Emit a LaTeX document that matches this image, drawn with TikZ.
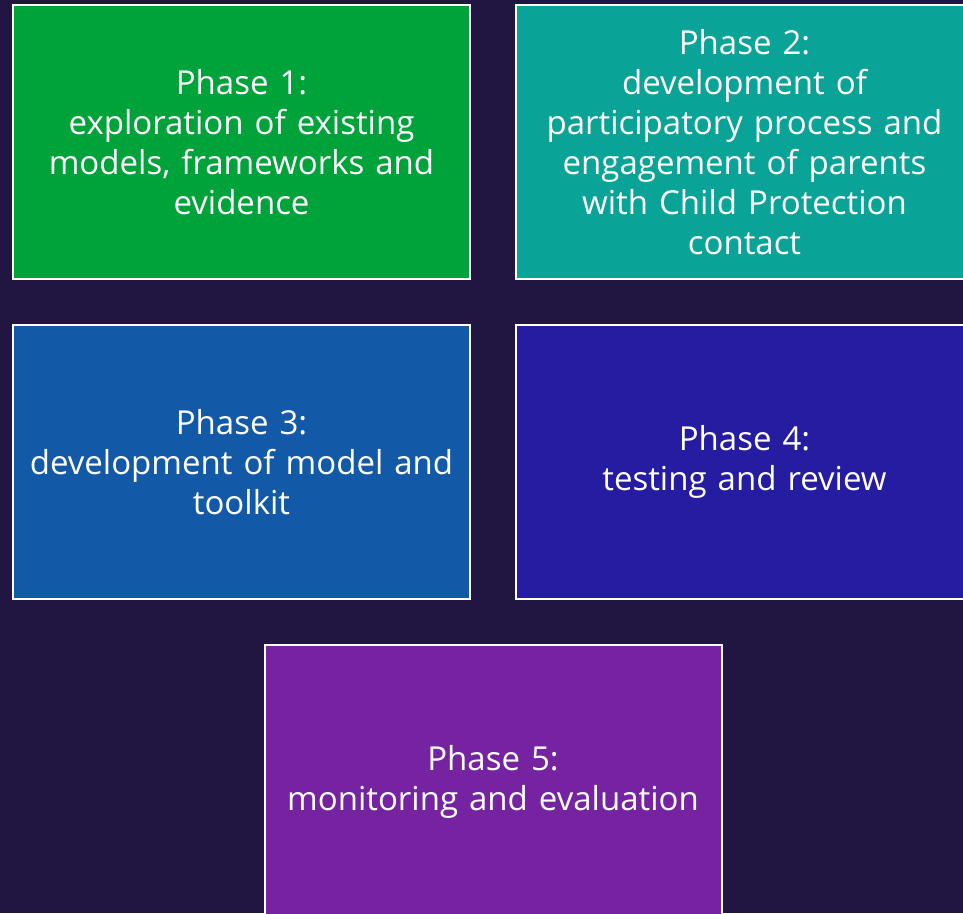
\documentclass[tikz,border=0pt]{standalone}
\usepackage{fontspec}
\setmainfont{Open Sans}
\usetikzlibrary{positioning, calc}

\definecolor{bgnavy}{HTML}{211642}
\definecolor{phasegreen}{HTML}{00A23A}
\definecolor{phaseteal}{HTML}{0AA397}
\definecolor{phaseblue}{HTML}{1259A8}
\definecolor{phaseindigo}{HTML}{251CA1}
\definecolor{phasepurple}{HTML}{7623A1}

\begin{document}
\begin{tikzpicture}[
    x=1pt, y=-1pt,
    phase/.style={rectangle, draw=white, line width=2pt, outer sep=0pt,
        minimum width=457pt, minimum height=274pt, text width=450pt,
        align=center, text=white, font=\fontsize{33}{40}\selectfont},
    node distance=46pt and 46pt
]

% background
\fill[bgnavy] (0,0) rectangle (963,913);
\useasboundingbox (0,0) rectangle (963,913);

% top row
\node[phase, fill=phasegreen, anchor=north west] (phase1) at (13,5)
    {Phase 1:\\exploration of existing\\models, frameworks and\\evidence};
\node[phase, fill=phaseteal, right=of phase1] (phase2)
    {Phase 2:\\development of\\participatory process and\\engagement of parents\\with Child Protection\\contact};

% middle row
\node[phase, fill=phaseblue, below=of phase1] (phase3)
    {Phase 3:\\development of model and\\toolkit};
\node[phase, fill=phaseindigo, below=of phase2] (phase4)
    {Phase 4:\\testing and review};

% bottom, centred under the middle row
\coordinate (midrow) at ($(phase3.south)!0.5!(phase4.south)$);
\node[phase, fill=phasepurple, below=of midrow] (phase5)
    {Phase 5:\\monitoring and evaluation};

\end{tikzpicture}
\end{document}
